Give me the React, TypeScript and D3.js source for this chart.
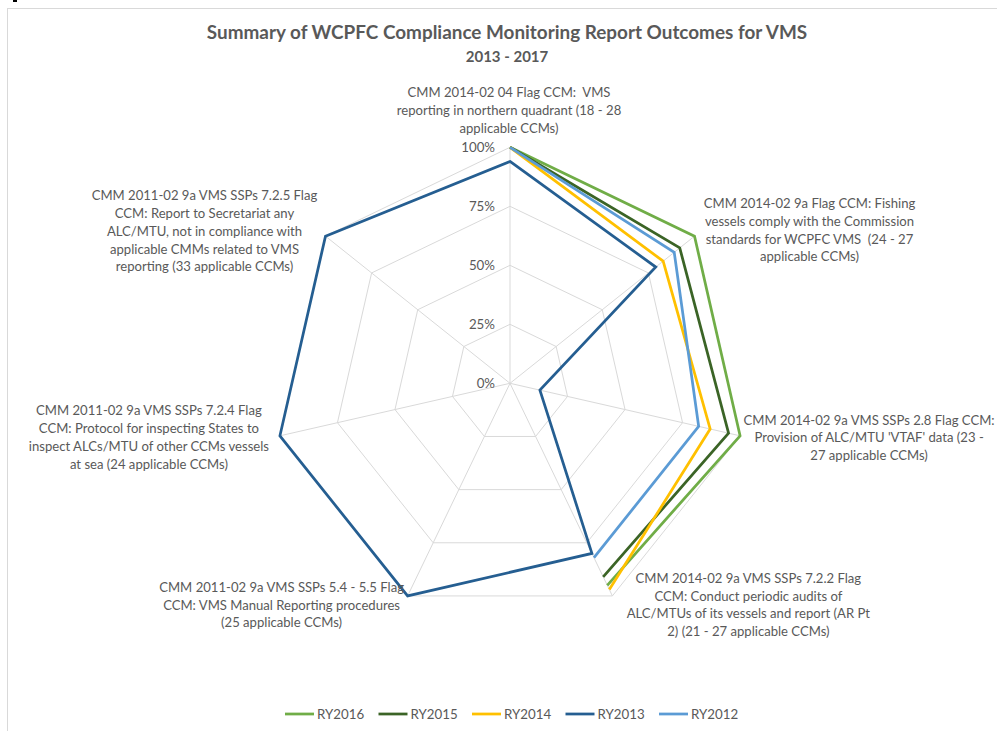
import { useEffect, useRef } from "react";
import * as d3 from "d3";

const axisLabels = [
  ["CMM 2014-02 04 Flag CCM: \u00a0VMS", "reporting in northern quadrant (18 - 28", "applicable CCMs)"],
  ["CMM 2014-02 9a Flag CCM: Fishing", "vessels comply with the Commission", "standards for WCPFC VMS \u00a0(24 - 27", "applicable CCMs)"],
  ["CMM 2014-02 9a VMS SSPs 2.8 Flag CCM:", "Provision of ALC/MTU 'VTAF' data (23 -", "27 applicable CCMs)"],
  ["CMM 2014-02 9a VMS SSPs 7.2.2 Flag", "CCM: Conduct periodic audits of", "ALC/MTUs of its vessels and report (AR Pt", "2) (21 - 27 applicable CCMs)"],
  ["CMM 2011-02 9a VMS SSPs 5.4 - 5.5 Flag", "CCM: VMS Manual Reporting procedures", "(25 applicable CCMs)"],
  ["CMM 2011-02 9a VMS SSPs 7.2.4 Flag", "CCM: Protocol for inspecting States to", "inspect ALCs/MTU of other CCMs vessels", "at sea (24 applicable CCMs)"],
  ["CMM 2011-02 9a VMS SSPs 7.2.5 Flag", "CCM: Report to Secretariat any", "ALC/MTU, not in compliance with", "applicable CMMs related to VMS", "reporting (33 applicable CCMs)"],
];

const seriesNames = ["RY2016", "RY2015", "RY2014", "RY2013", "RY2012"];
const seriesColors = ["#70AD47", "#3B6426", "#FFC000", "#255E91", "#5B9BD5"];

const ry2016 = [1.0, 1.0, 1.0, 0.95, null, null, null];
const ry2015 = [1.0, 0.92, 0.95, 0.91, null, null, null];
const ry2014 = [1.0, 0.83, 0.87, 0.97, null, null, null];
const ry2013 = [0.94, 0.79, 0.13, 0.8, 1.0, 1.0, 1.0];
const ry2012 = [1.0, 0.89, 0.82, 0.82, null, null, null];
const seriesValues = [ry2016, ry2015, ry2014, ry2013, ry2012];

const tickValues = [0, 0.25, 0.5, 0.75, 1];

// label block offsets from the end of each spoke
const labelOffsets = [
  [-1, -37], [115, -6], [129, 2], [136, 9], [-126, 9], [-131, 1.5], [-121, -5],
];

const W = 997;
const H = 731;
const FONT = "Lato, 'Open Sans', sans-serif";
const TEXT = "#595959";

export default function App() {
  const ref = useRef<SVGSVGElement>(null);

  useEffect(() => {
    const svg = d3.select(ref.current);
    svg.selectAll("*").remove();

    const cx = 510;
    const cy = 383.3;
    const R = 236;
    const n = axisLabels.length;

    const angle = d3.scaleLinear().domain([0, n]).range([0, 2 * Math.PI]);
    const r = d3.scaleLinear().domain([0, 1]).range([0, R]);
    const pt = (i: number, v: number) => [
      cx + r(v) * Math.sin(angle(i)),
      cy - r(v) * Math.cos(angle(i)),
    ];

    // chart border and stray cell mark
    svg.append("rect").attr("x", 7.5).attr("y", 8.5).attr("width", W).attr("height", H)
      .attr("fill", "none").attr("stroke", "#D9D9D9").attr("stroke-width", 1);
    svg.append("rect").attr("x", 13).attr("y", 0).attr("width", 4).attr("height", 2).attr("fill", "#000");

    svg.append("text").attr("x", 507).attr("y", 39).attr("text-anchor", "middle")
      .attr("font-family", FONT).attr("font-size", 18.9).attr("font-weight", "bold").attr("fill", TEXT)
      .text("Summary of WCPFC Compliance Monitoring Report Outcomes for VMS");
    svg.append("text").attr("x", 507).attr("y", 62).attr("text-anchor", "middle")
      .attr("font-family", FONT).attr("font-size", 15).attr("font-weight", "bold").attr("fill", TEXT)
      .text("2013 - 2017");

    const grid = svg.append("g").attr("fill", "none").attr("stroke", "#D9D9D9").attr("stroke-width", 1);
    const idx = d3.range(n);
    tickValues.filter((t) => t > 0).forEach((t) => {
      grid.append("path").attr("d", d3.line()(idx.map((i) => pt(i, t) as [number, number])) + "Z");
    });
    idx.forEach((i) => {
      const [x, y] = pt(i, 1);
      grid.append("line").attr("x1", cx).attr("y1", cy).attr("x2", x).attr("y2", y);
    });

    svg.append("g").selectAll("text").data(tickValues).join("text")
      .attr("x", cx - 15).attr("y", (d) => cy - r(d)).attr("dy", "0.35em")
      .attr("text-anchor", "end").attr("font-family", FONT).attr("font-size", 13.3).attr("fill", TEXT)
      .text((d) => d3.format(".0%")(d));

    const line = d3.line<number | null>()
      .defined((d) => d !== null)
      .x((d, i) => pt(i, d as number)[0])
      .y((d, i) => pt(i, d as number)[1]);

    svg.append("g").selectAll("path").data(seriesValues).join("path")
      .attr("d", (vals) => {
        if (vals.every((v) => v !== null)) {
          return d3.line()(vals.map((v, i) => pt(i, v as number) as [number, number])) + "Z";
        }
        return line(vals);
      })
      .attr("fill", "none")
      .attr("stroke", (d, i) => seriesColors[i])
      .attr("stroke-width", 2.75)
      .attr("stroke-linejoin", "miter");

    const lh = 17.8;
    const labels = svg.append("g").attr("font-family", FONT).attr("font-size", 13.1).attr("fill", TEXT)
      .attr("text-anchor", "middle");
    axisLabels.forEach((lines, i) => {
      const [x, y] = pt(i, 1);
      const lx = x + labelOffsets[i][0];
      const ly = y + labelOffsets[i][1] - ((lines.length - 1) * lh) / 2;
      const t = labels.append("text").attr("x", lx).attr("y", ly);
      lines.forEach((s, k) => {
        t.append("tspan").attr("x", lx).attr("y", ly + k * lh).attr("dy", "0.35em").text(s);
      });
    });

    const legend = svg.append("g").attr("font-family", FONT).attr("font-size", 13.3).attr("fill", TEXT);
    const lx = d3.scaleLinear().domain([0, 1]).range([285, 378.5]);
    seriesNames.forEach((name, i) => {
      const x0 = lx(i);
      legend.append("line").attr("x1", x0).attr("x2", x0 + 29).attr("y1", 714).attr("y2", 714)
        .attr("stroke", seriesColors[i]).attr("stroke-width", 2.75);
      legend.append("text").attr("x", x0 + 32).attr("y", 714).attr("dy", "0.35em").text(name);
    });
  }, []);

  return (
    <svg ref={ref} width={W} height={H}
      style={{ position: "absolute", left: 0, top: 0, background: "#fff" }} />
  );
}
